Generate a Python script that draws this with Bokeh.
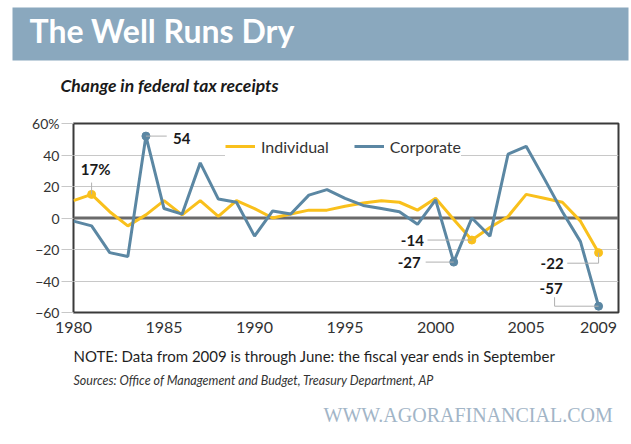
from bokeh.plotting import figure
from bokeh.models import (Range1d, FixedTicker, Span, Label, ColumnDataSource, Legend, Title)
from bokeh.embed import file_html
from bokeh.resources import INLINE

# ---------------- data ----------------
years = list(range(1980, 2010))
individual = [11, 15, 4, -5, 2, 11, 2, 11, 1, 11, 6, 0, 2.5, 5, 5, 7.5, 9.5, 11, 10, 5,
              12.5, -1, -14, -6, 1, 15, 12.5, 10, -2, -22]
corporate = [-2, -5, -22, -24.5, 52, 6, 2.5, 35, 12, 10, -11.5, 4.5, 2.5, 14.5, 18, 12.5,
             8, 6, 4, -4, 11.5, -28, 0, -11.5, 40.5, 45.5, 25, 4, -15, -56]
x_ticks = [1980, 1985, 1990, 1995, 2000, 2005, 2009]
y_ticks = [-60, -40, -20, 0, 20, 40, 60]
series_names = ["Individual", "Corporate"]
title_text = "The Well Runs Dry"
subtitle_text = "Change in federal tax receipts"
note_text = "NOTE: Data from 2009 is through June: the fiscal year ends in September"
source_text = "Sources: Office of Management and Budget, Treasury Department, AP"
site_text = "WWW.AGORAFINANCIAL.COM"

callouts_individual = {1981: "17%", 2002: "-14", 2009: "-22"}
callouts_corporate = {1984: "54", 2001: "-27", 2009: "-57"}

YELLOW = "#f9c01c"
BLUE = "#5b87a3"
BAND = "#8aa8be"
FONT = "Lato"
W, H = 631, 444

p = figure(width=W, height=H, x_range=Range1d(1980, 2010.1), y_range=Range1d(-60, 60),
           output_backend="svg", toolbar_location=None, title=None,
           min_border_left=73, min_border_right=13, min_border_top=123, min_border_bottom=132)
p.background_fill_color = "white"
p.border_fill_color = "white"
p.outline_line_color = "#3a3a3a"
p.outline_line_width = 2

def make_title(text, size, color, style="normal", font=FONT, offset=0, standoff=0,
               valign="bottom", pad=None, bg=None):
    t = Title(text=text, align="left", offset=offset, standoff=standoff,
              vertical_align=valign, text_font=font, text_font_size=size,
              text_font_style=style, text_color=color)
    if bg is not None:
        t.background_fill_color = bg
    if pad is not None:
        try:
            t.padding = pad
        except Exception:
            pass
    return t

# above: first added sits closest to the frame
p.add_layout(make_title(subtitle_text, "17.5px", "#1a1a1a", style="bold italic", offset=-13,
                        standoff=24, pad=dict(left=0, right=0, top=0, bottom=16)), "above")
p.add_layout(make_title(title_text, "32px", "white", style="bold", offset=-61, standoff=0,
                        pad=dict(left=17, right=334, top=3, bottom=11), bg=BAND), "above")

# below: first added sits closest to the axis
p.add_layout(make_title(note_text, "15px", "#1f1f1f", standoff=0, valign="top",
                        pad=dict(left=0, right=0, top=11, bottom=0)), "below")
p.add_layout(make_title(source_text, "12.5px", "#333333", style="italic", standoff=0,
                        valign="top", pad=dict(left=0, right=0, top=6, bottom=0)), "below")
p.add_layout(make_title(site_text, "20px", "#a2b5c7", font="Liberation Serif", offset=250,
                        standoff=0, valign="top", pad=dict(left=0, right=0, top=14, bottom=0)),
             "below")

# ---------------- axes ----------------
p.xaxis.ticker = FixedTicker(ticks=x_ticks)
p.xaxis.major_tick_line_color = None
p.xaxis.minor_tick_line_color = None
p.xaxis.axis_line_color = None
p.xaxis.major_label_standoff = 3
p.xaxis.major_label_text_font = FONT
p.xaxis.major_label_text_font_size = "16px"
p.xaxis.major_label_text_color = "#333333"

p.yaxis.ticker = FixedTicker(ticks=y_ticks)
p.yaxis.major_label_overrides = {60: "60%"}
p.yaxis.major_tick_in = 0
p.yaxis.major_tick_out = 12
p.yaxis.major_tick_line_color = "#c8c8c8"
p.yaxis.minor_tick_line_color = None
p.yaxis.axis_line_color = None
p.yaxis.major_label_standoff = 2
p.yaxis.major_label_text_font = FONT
p.yaxis.major_label_text_font_size = "14px"
p.yaxis.major_label_text_color = "#333333"

p.xgrid.visible = False
p.ygrid.ticker = FixedTicker(ticks=[t for t in y_ticks if t not in (0, 60, -60)])
p.ygrid.grid_line_color = "#c8c8c8"
p.ygrid.grid_line_width = 1

p.add_layout(Span(location=0, dimension="width", line_color="#6a6a6a", line_width=3,
                  level="underlay"))

# ---------------- series ----------------
src = ColumnDataSource(dict(year=years, ind=individual, corp=corporate))
r_ind = p.line("year", "ind", source=src, line_color=YELLOW, line_width=3)
r_corp = p.line("year", "corp", source=src, line_color=BLUE, line_width=3)

ci_years = list(callouts_individual.keys())
ci_vals = [individual[years.index(y)] for y in ci_years]
cc_years = list(callouts_corporate.keys())
cc_vals = [corporate[years.index(y)] for y in cc_years]
p.scatter(ci_years, ci_vals, size=8, fill_color=YELLOW, line_color=YELLOW)
p.scatter(cc_years, cc_vals, size=8, fill_color=BLUE, line_color=BLUE)

LEAD = "#b0b0b0"
def lead(x0, y0, x1, y1):
    p.segment(x0=[x0], y0=[y0], x1=[x1], y1=[y1], line_color=LEAD, line_width=1)

def tag(x, y, s, dx, dy, align="left", baseline="middle"):
    p.add_layout(Label(x=x, y=y, text=s, x_offset=dx, y_offset=dy, text_align=align,
                       text_baseline=baseline, text_font=FONT, text_font_style="bold",
                       text_font_size="15px", text_color="#1a1a1a"))

y81 = individual[years.index(1981)]
lead(1981, y81, 1981, y81 + 7.5)
tag(1981, y81, callouts_individual[1981], 4, 16, align="center", baseline="bottom")
y84 = corporate[years.index(1984)]
lead(1984, y84, 1984 + 1.15, y84)
tag(1984, y84, callouts_corporate[1984], 27, -2)
y02 = individual[years.index(2002)]
lead(2002 - 2.45, y02, 2002, y02)
tag(2002, y02, callouts_individual[2002], -48, 0, align="right")
y01 = corporate[years.index(2001)]
lead(2001 - 1.55, y01, 2001, y01)
tag(2001, y01, callouts_corporate[2001], -33, 0, align="right")
y09i = individual[years.index(2009)]
lead(2009, y09i, 2009, y09i - 6.7)
lead(2009 - 1.73, y09i - 6.7, 2009, y09i - 6.7)
tag(2009, y09i, callouts_individual[2009], -35, -10.5, align="right")
y09c = corporate[years.index(2009)]
lead(2009 - 2.43, y09c, 2009, y09c)
lead(2009 - 2.43, y09c, 2009 - 2.43, y09c + 5.7)
tag(2009, y09c, callouts_corporate[2009], -36, 18, align="right")

legend = Legend(items=[(series_names[0], [r_ind]), (series_names[1], [r_corp])],
                location=(152, 156), orientation="horizontal")
legend.background_fill_color = "white"
legend.background_fill_alpha = 1
legend.border_line_color = None
legend.label_text_font = FONT
legend.label_text_font_size = "16px"
legend.label_text_color = "#333333"
legend.glyph_width = 30
legend.label_standoff = 6
legend.spacing = 25
legend.padding = 7
legend.margin = 0
p.add_layout(legend)

open("out.html", "w").write(file_html(p, INLINE))
